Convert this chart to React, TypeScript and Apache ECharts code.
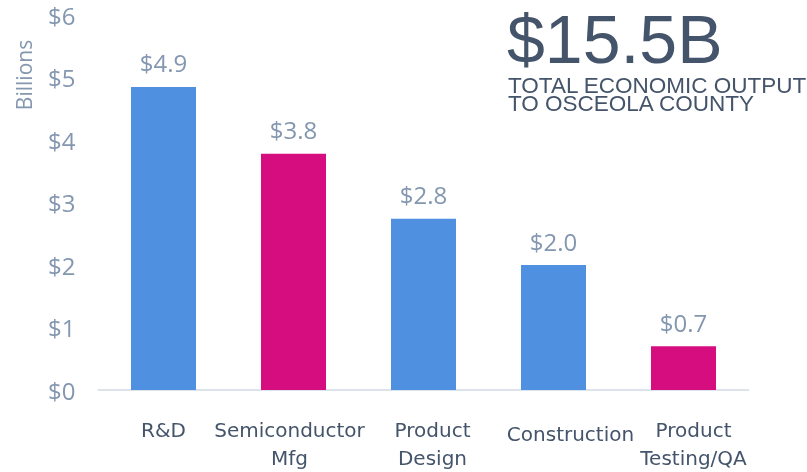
import React, { useEffect, useRef } from "react";
import * as echarts from "echarts";

const categories = ["R&D", "Semiconductor\nMfg", "Product\nDesign", "Construction", "Product\nTesting/QA"];
const values = [4.85, 3.78, 2.74, 2.0, 0.7];
const valueLabels = ["$4.9", "$3.8", "$2.8", "$2.0", "$0.7"];
const barColors = ["#4f90e0", "#d60d7f", "#4f90e0", "#4f90e0", "#d60d7f"];
const labelPads = [
  [0, 0, 0, 0],
  [0, 8, 0, 0],
  [0, 0, 0, 18],
  [4, 0, 0, 34],
  [0, 0, 0, 20],
];
const yTicks = [0, 1, 2, 3, 4, 5, 6];

export default function App() {
  const ref = useRef<HTMLDivElement>(null);
  useEffect(() => {
    if (!ref.current) return;
    const chart = echarts.init(ref.current, null, { renderer: "svg" });
    chart.setOption({
      animation: false,
      grid: { left: 98.5, right: 58.5, top: 15, bottom: 82, containLabel: false },
      xAxis: {
        type: "category",
        data: categories.map((c, i) => ({
          value: c,
          textStyle: { padding: labelPads[i] },
        })),
        axisLine: { show: true, lineStyle: { color: "#dde3ea", width: 2 } },
        axisTick: { show: false },
        axisLabel: {
          interval: 0,
          color: "#44546a",
          fontSize: 20,
          lineHeight: 28,
          margin: 26,
          fontFamily: "DejaVu Sans",
        },
      },
      yAxis: {
        type: "value",
        min: 0,
        max: 6,
        interval: 1,
        splitLine: { show: false },
        axisLine: { show: false },
        axisTick: { show: false },
        axisLabel: {
          color: "#8497b0",
          fontSize: 24,
          margin: 23,
          fontFamily: "Open Sans",
          formatter: (v: number) => (yTicks.includes(v) ? "$" + v : ""),
        },
      },
      series: [
        {
          type: "bar",
          barWidth: 65,
          data: values.map((v, i) => ({ value: v, itemStyle: { color: barColors[i] } })),
          label: {
            show: true,
            position: "top",
            distance: 12,
            color: "#8497b0",
            fontSize: 24,
            fontFamily: "Open Sans",
            formatter: (p: any) => valueLabels[p.dataIndex],
          },
        },
      ],
      graphic: [
        {
          type: "text",
          x: 24,
          y: 75,
          rotation: Math.PI / 2,
          style: {
            text: "Billions",
            fill: "#8497b0",
            fontSize: 21,
            fontFamily: "Open Sans",
            align: "center",
            verticalAlign: "middle",
          },
        },
        {
          type: "text",
          x: 507,
          y: 8,
          style: {
            text: "$15.5B",
            fill: "#44546a",
            fontSize: 68,
            lineHeight: 62,
            fontFamily: "Liberation Sans",
          },
        },
        {
          type: "text",
          x: 508,
          y: 76,
          style: {
            text: "TOTAL ECONOMIC OUTPUT\nTO OSCEOLA COUNTY",
            fill: "#44546a",
            fontSize: 22.5,
            lineHeight: 18,
            fontFamily: "Liberation Sans",
          },
        },
      ],
    });
    return () => chart.dispose();
  }, []);
  return <div ref={ref} style={{ width: 807, height: 472, position: "fixed", left: 0, top: 0 }} />;
}
